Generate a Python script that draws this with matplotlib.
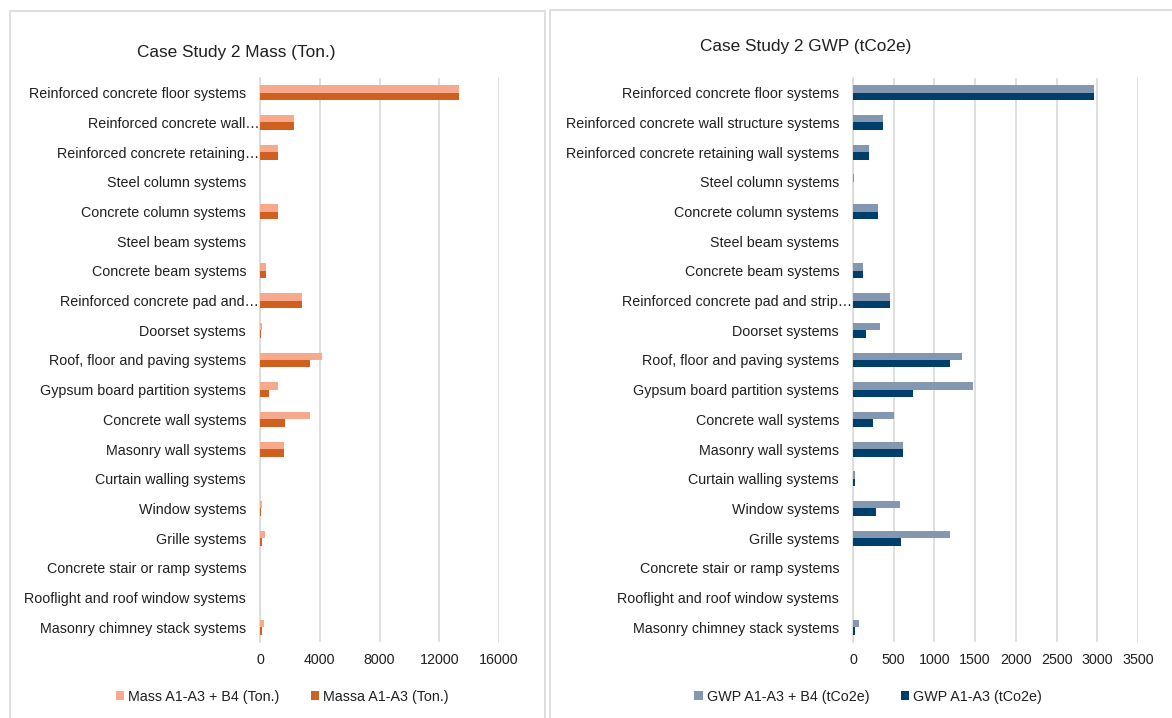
import numpy as np
import matplotlib.pyplot as plt
from matplotlib.patches import Rectangle
from matplotlib.transforms import ScaledTranslation

plt.rcParams['font.family'] = ['Liberation Sans', 'DejaVu Sans']

# categories (top to bottom)
cats_mass = ["Reinforced concrete floor systems", "Reinforced concrete wall\u2026",
             "Reinforced concrete retaining\u2026", "Steel column systems",
             "Concrete column systems", "Steel beam systems", "Concrete beam systems",
             "Reinforced concrete pad and\u2026", "Doorset systems",
             "Roof, floor and paving systems", "Gypsum board partition systems",
             "Concrete wall systems", "Masonry wall systems", "Curtain walling systems",
             "Window systems", "Grille systems", "Concrete stair or ramp systems",
             "Rooflight and roof window systems", "Masonry chimney stack systems"]
cats_gwp = ["Reinforced concrete floor systems", "Reinforced concrete wall structure systems",
            "Reinforced concrete retaining wall systems", "Steel column systems",
            "Concrete column systems", "Steel beam systems", "Concrete beam systems",
            "Reinforced concrete pad and strip\u2026", "Doorset systems",
            "Roof, floor and paving systems", "Gypsum board partition systems",
            "Concrete wall systems", "Masonry wall systems", "Curtain walling systems",
            "Window systems", "Grille systems", "Concrete stair or ramp systems",
            "Rooflight and roof window systems", "Masonry chimney stack systems"]

# values
mass_b4 = [13340, 2250, 1220, 0, 1200, 0, 400, 2830, 120, 4140, 1220, 3380, 1580, 0, 120, 360, 0, 0, 260]
mass_a = [13340, 2250, 1220, 0, 1200, 0, 400, 2830, 50, 3380, 575, 1650, 1580, 0, 50, 145, 0, 0, 120]
gwp_b4 = [2965, 366, 193, 15, 301, 0, 119, 450, 336, 1334, 1477, 499, 618, 25, 578, 1191, 0, 0, 69]
gwp_a = [2965, 366, 193, 5, 301, 0, 119, 450, 163, 1196, 731, 247, 618, 25, 287, 593, 0, 0, 30]

mass_ticks = [0, 4000, 8000, 12000, 16000]
gwp_ticks = [0, 500, 1000, 1500, 2000, 2500, 3000, 3500]

W, H = 1172, 718
fig = plt.figure(figsize=(W / 100, H / 100), dpi=100)
txt = '#1f1f1f'
grid = '#D9D9D9'

# panel frames
fig.patches.append(Rectangle((10 / W, -0.1), 535 / W, 1.1 - 11 / H, transform=fig.transFigure,
                             fill=False, edgecolor=grid, lw=1.2))
fig.patches.append(Rectangle((550 / W, -0.1), 0.6, 1.1 - 10 / H, transform=fig.transFigure,
                             fill=False, edgecolor=grid, lw=1.2))


def panel(x0, x1, cats, top, bottom, ticks, c_top, c_bot, labels, title, tx, ty, legx):
    ax = fig.add_axes([x0 / W, 1 - 642 / H, (x1 - x0) / W, 564 / H])
    y = np.arange(len(cats))
    ax.barh(y - 0.125, top, height=0.255, color=c_top, label=labels[0], zorder=3)
    ax.barh(y + 0.125, bottom, height=0.255, color=c_bot, label=labels[1], zorder=3)
    ax.set_ylim(len(cats) - 0.5, -0.5)
    ax.set_xlim(ticks[0], ticks[-1])
    ax.set_xticks(ticks)
    ax.set_xticklabels([str(t) for t in ticks])
    ax.set_yticks(y)
    ax.set_yticklabels(cats)
    ax.tick_params(axis='both', length=0, labelsize=10.3, colors=txt)
    ax.tick_params(axis='y', pad=10)
    ax.tick_params(axis='x', pad=8)
    # truncated labels run right up to the axis
    for lab in ax.get_yticklabels():
        if lab.get_text().endswith('\u2026'):
            lab.set_transform(lab.get_transform() + ScaledTranslation(0.13, 0, fig.dpi_scale_trans))
    ax.xaxis.grid(True, color=grid, lw=1.2, zorder=0)
    for s in ['top', 'right', 'bottom']:
        ax.spines[s].set_visible(False)
    ax.spines['left'].set_color(grid)
    ax.spines['left'].set_linewidth(1.2)
    fig.text(tx / W, 1 - ty / H, title, ha='center', va='center', fontsize=12.4, color=txt)
    h, l = ax.get_legend_handles_labels()
    fig.legend(h, l, loc='center', bbox_to_anchor=(legx / W, 1 - 697 / H), ncol=2, frameon=False,
               fontsize=10.3, handlelength=0.6, handleheight=0.6, handletextpad=0.25,
               columnspacing=2.2, labelcolor=txt)
    return ax


panel(260, 499, cats_mass, mass_b4, mass_a, mass_ticks, '#F7A98B', '#D0601F',
      ["Mass A1-A3 + B4 (Ton.)", "Massa A1-A3 (Ton.)"], "Case Study 2 Mass (Ton.)", 236, 52, 282)
panel(853, 1138, cats_gwp, gwp_b4, gwp_a, gwp_ticks, '#8497B0', '#003F6B',
      ["GWP A1-A3 + B4 (tCo2e)", "GWP A1-A3 (tCo2e)"], "Case Study 2 GWP (tCo2e)", 806, 46, 868)

plt.savefig('out.png', dpi=100)
